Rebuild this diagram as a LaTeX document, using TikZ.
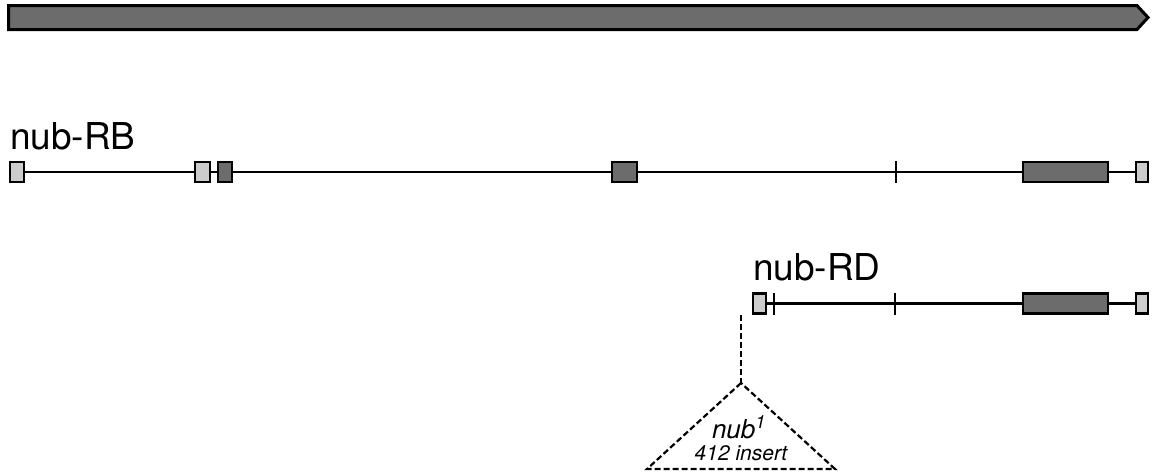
\documentclass[tikz,border=0pt]{standalone}
\usepackage{fontspec}
\setmainfont{TeX Gyre Heros}
\usepackage{tikz}
\usetikzlibrary{positioning}

\definecolor{exondark}{RGB}{108,108,108}
\definecolor{exonlight}{RGB}{204,204,204}

\tikzset{
  exon/.style={draw=black, line width=2.4pt, inner sep=0pt, minimum height=20pt},
  exonD/.style={exon, fill=exondark},
  exonL/.style={exon, fill=exonlight},
  intron/.style={line width=2.2pt},
  splitmark/.style={line width=2.2pt},
  isoname/.style={anchor=base west, inner sep=0pt, font=\fontsize{37}{44}\selectfont},
  insertion/.style={line width=2.2pt, dash pattern=on 6pt off 3pt}
}

\begin{document}
\begin{tikzpicture}[x=1pt, y=-1pt]
  \useasboundingbox (0,0) rectangle (1154,475);

  % gene span
  \draw[line width=3pt, fill=exondark] (8.5,5.5) -- (1137,5.5) -- (1148,17.5) -- (1137,29.5) -- (8.5,29.5) -- cycle;

  % nub-RB
  \node[isoname] (lblRB) at (10,149) {nub-RB};
  \node[exonL, minimum width=14pt] (rb1) at (17,172) {};
  \node[exonL, minimum width=15pt] (rb2) at (202.5,172) {};
  \node[exonD, minimum width=14pt] (rb3) at (225,172) {};
  \node[exonD, minimum width=25pt] (rb4) at (624.5,172) {};
  \node[exonD, minimum width=85pt] (rb5) at (1065.5,172) {};
  \node[exonL, minimum width=12pt] (rb6) at (1142,172) {};
  \coordinate (rbcut) at (896,172);
  \draw[intron] (rb1) -- (rb2);
  \draw[intron] (rb2) -- (rb3);
  \draw[intron] (rb3) -- (rb4);
  \draw[intron] (rb4) -- (rb5);
  \draw[intron] (rb5) -- (rb6);
  \draw[splitmark] (rbcut) ++(0,-11) -- ++(0,22);

  % nub-RD
  \node[isoname] (lblRD) at (753,280) {nub-RD};
  \node[exonL, minimum width=13pt] (rd1) at (759.5,303.5) {};
  \node[exonD, minimum width=85pt] (rd5) at (1065.5,303.5) {};
  \node[exonL, minimum width=12pt] (rd6) at (1142,303.5) {};
  \coordinate (rdcutA) at (774,303.5);
  \coordinate (rdcutB) at (895,303.5);
  \draw[intron] (rd1) -- (rd5);
  \draw[intron] (rd5) -- (rd6);
  \draw[splitmark] (rdcutA) ++(0,-11) -- ++(0,22);
  \draw[splitmark] (rdcutB) ++(0,-11) -- ++(0,22);

  % nub1 insertion
  \coordinate (insTop) at (741,315);
  \coordinate (insApex) at (741,383);
  \coordinate (insLeft) at (647,469);
  \coordinate (insRight) at (835,469);
  \draw[insertion] (insTop) -- (insApex);
  \draw[insertion] (insApex) -- (insLeft) -- (insRight) -- cycle;
  \node[anchor=base, inner sep=0pt, font=\itshape\fontsize{26}{30}\selectfont] (allele) at (739,438) {nub\textsuperscript{1}};
  \node[anchor=base, inner sep=0pt, font=\itshape\fontsize{21}{25}\selectfont] (inslen) at (741,460) {412 insert};
\end{tikzpicture}
\end{document}
